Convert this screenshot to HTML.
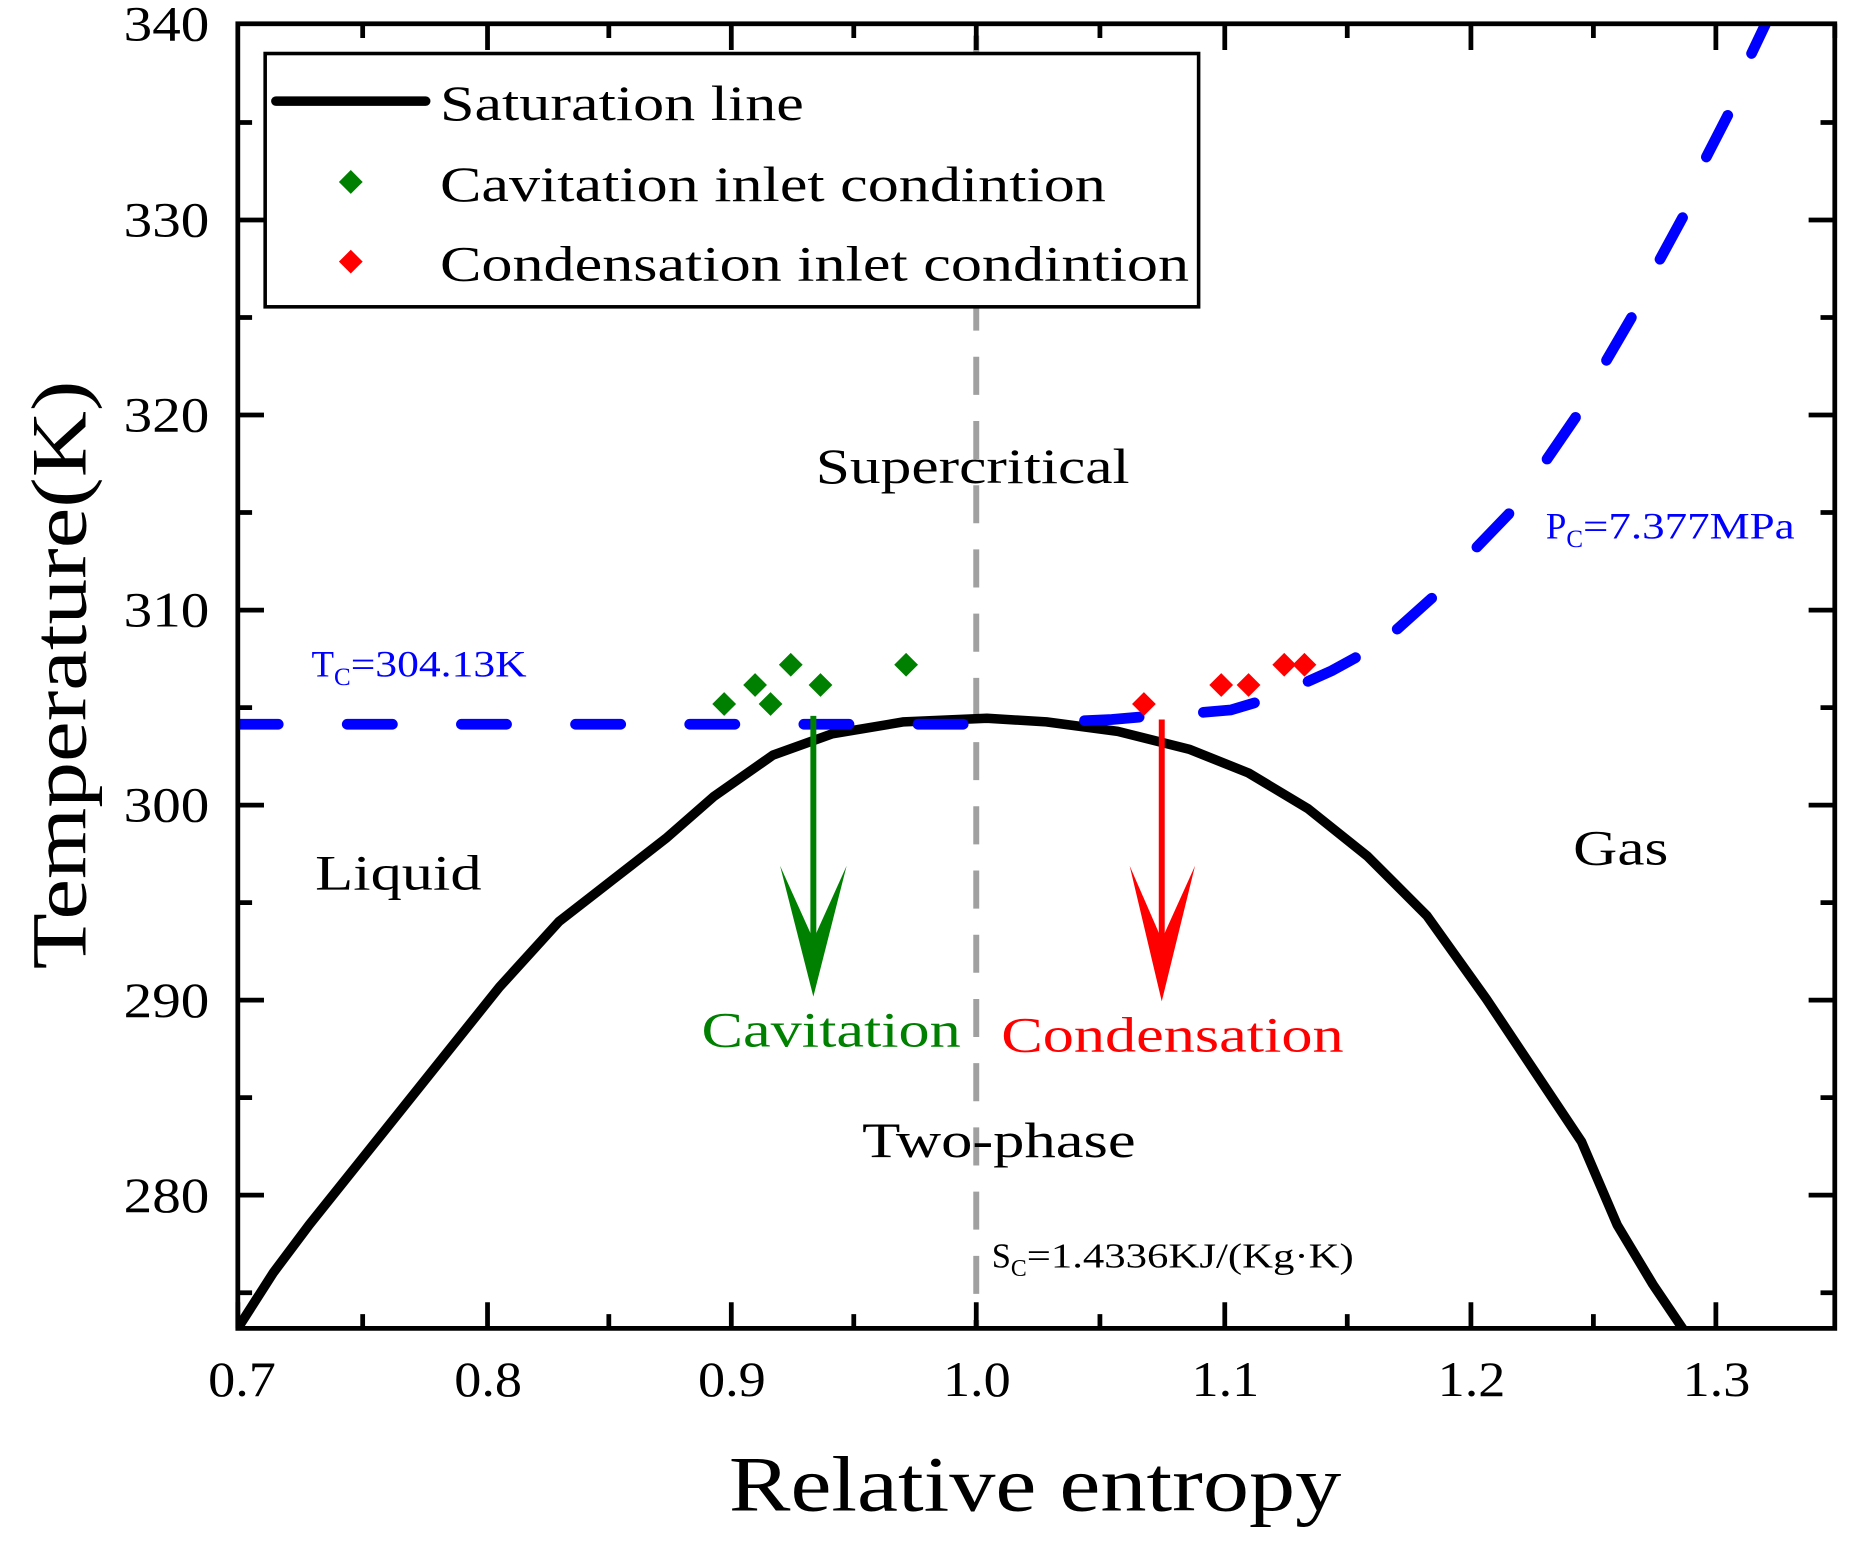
<!DOCTYPE html>
<html><head><meta charset="utf-8"><style>
html,body{margin:0;padding:0;background:#fff;}
svg{display:block;}
text{font-family:"Liberation Serif",serif;}
</style></head><body>
<svg width="1855" height="1546" viewBox="0 0 1560 1300" preserveAspectRatio="none" xmlns="http://www.w3.org/2000/svg">
<rect x="0" y="0" width="1560" height="1300" fill="#fff"/>
<defs><clipPath id="c"><rect x="200" y="20" width="1343" height="1097"/></clipPath></defs>
<g clip-path="url(#c)">
<line x1="821" y1="30" x2="821" y2="1117" stroke="#a0a0a0" stroke-width="5" stroke-dasharray="32,22"/>
<polyline fill="none" stroke="#000" stroke-width="8" stroke-linejoin="round" points="198,1120 230,1070 260,1030 300,980 340,930 380,880 420,830 470,775 515,740 560,705 600,670 650,635 700,617 760,607 830,604 880,607 940,615 1000,630 1050,650 1100,680 1150,720 1200,770 1250,840 1290,900 1330,960 1360,1030 1390,1080 1417,1120"/>
<g stroke="#0000ff" stroke-width="9" stroke-linecap="round" fill="none">
<line x1="196" y1="609" x2="866" y2="609" stroke-dasharray="38,58" stroke-dashoffset="0"/>
<polyline points="912,606 935,605 958,603"/>
<polyline points="1012,599 1035,597 1055,591"/>
<polyline points="1100,573 1120,564 1140,553"/>
<line x1="1175" y1="529" x2="1204" y2="503"/>
<line x1="1242" y1="460" x2="1269" y2="432"/>
<line x1="1301" y1="386" x2="1325" y2="351"/>
<line x1="1351" y1="303" x2="1372" y2="267"/>
<line x1="1396" y1="218" x2="1415" y2="183"/>
<line x1="1435" y1="132" x2="1453" y2="97"/>
<line x1="1473" y1="45" x2="1492" y2="5"/>
</g>
</g>
<g fill="#008000">
<polygon points="609,582 619,592 609,602 599,592"/>
<polygon points="635,566 645,576 635,586 625,576"/>
<polygon points="648,582 658,592 648,602 638,592"/>
<polygon points="665,549 675,559 665,569 655,559"/>
<polygon points="690,566 700,576 690,586 680,576"/>
<polygon points="762,549 772,559 762,569 752,559"/>
</g>
<g fill="#ff0000">
<polygon points="962,582 972,592 962,602 952,592"/>
<polygon points="1027,566 1037,576 1027,586 1017,576"/>
<polygon points="1050,566 1060,576 1050,586 1040,576"/>
<polygon points="1080,549 1090,559 1080,569 1070,559"/>
<polygon points="1097,549 1107,559 1097,569 1087,559"/>
</g>
<line x1="684" y1="602" x2="684" y2="790" stroke="#008000" stroke-width="5"/>
<polygon points="656,728 684,790 712,728 684,838" fill="#008000"/>
<line x1="977" y1="605" x2="977" y2="790" stroke="#ff0000" stroke-width="5"/>
<polygon points="950,728 977,790 1005,728 977,842" fill="#ff0000"/>
<rect x="200" y="20" width="1343" height="1097" fill="none" stroke="#000" stroke-width="4"/>
<g stroke="#000" stroke-width="4">
<path d="M200,1117v-22M410,1117v-22M615,1117v-22M821,1117v-22M1030,1117v-22M1237,1117v-22M1443,1117v-22
M305,1117v-12M512,1117v-12M718,1117v-12M925,1117v-12M1133,1117v-12M1340,1117v-12
M410,20v22M615,20v22M821,20v22M1030,20v22M1237,20v22M1443,20v22
M305,20v12M512,20v12M718,20v12M925,20v12M1133,20v12M1340,20v12M1543,20v12"/>
<path d="M200,185h22M200,349h22M200,513h22M200,677h22M200,841h22M200,1005h22
M200,103h12M200,267h12M200,431h12M200,595h12M200,759h12M200,923h12M200,1087h12
M1543,185h-22M1543,349h-22M1543,513h-22M1543,677h-22M1543,841h-22M1543,1005h-22
M1543,103h-12M1543,267h-12M1543,431h-12M1543,595h-12M1543,759h-12M1543,923h-12M1543,1087h-12"/>
</g>
<g font-size="42" text-anchor="end">
<text x="176" y="34" textLength="72" lengthAdjust="spacingAndGlyphs">340</text>
<text x="176" y="199" textLength="72" lengthAdjust="spacingAndGlyphs">330</text>
<text x="176" y="363" textLength="72" lengthAdjust="spacingAndGlyphs">320</text>
<text x="176" y="527" textLength="72" lengthAdjust="spacingAndGlyphs">310</text>
<text x="176" y="691" textLength="72" lengthAdjust="spacingAndGlyphs">300</text>
<text x="176" y="855" textLength="72" lengthAdjust="spacingAndGlyphs">290</text>
<text x="176" y="1019" textLength="72" lengthAdjust="spacingAndGlyphs">280</text>
</g>
<g font-size="42">
<text x="175" y="1174" textLength="57" lengthAdjust="spacingAndGlyphs">0.7</text>
<text x="382" y="1174" textLength="57" lengthAdjust="spacingAndGlyphs">0.8</text>
<text x="587" y="1174" textLength="57" lengthAdjust="spacingAndGlyphs">0.9</text>
<text x="793" y="1174" textLength="57" lengthAdjust="spacingAndGlyphs">1.0</text>
<text x="1002" y="1174" textLength="57" lengthAdjust="spacingAndGlyphs">1.1</text>
<text x="1209" y="1174" textLength="57" lengthAdjust="spacingAndGlyphs">1.2</text>
<text x="1415" y="1174" textLength="57" lengthAdjust="spacingAndGlyphs">1.3</text>
</g>
<text x="613" y="1270" font-size="66" textLength="515" lengthAdjust="spacingAndGlyphs">Relative entropy</text>
<text transform="translate(72,815) rotate(-90)" font-size="66" textLength="495" lengthAdjust="spacingAndGlyphs">Temperature(K)</text>
<rect x="223" y="45" width="785" height="213" fill="#fff" stroke="#000" stroke-width="3"/>
<line x1="232" y1="85" x2="358" y2="85" stroke="#000" stroke-width="8" stroke-linecap="round"/>
<polygon points="295,143 305,153 295,163 285,153" fill="#008000"/>
<polygon points="295,210 305,220 295,230 285,220" fill="#ff0000"/>
<g font-size="42" lengthAdjust="spacingAndGlyphs">
<text x="370" y="101" textLength="306" lengthAdjust="spacingAndGlyphs">Saturation line</text>
<text x="370" y="169" textLength="560" lengthAdjust="spacingAndGlyphs">Cavitation inlet condintion</text>
<text x="370" y="236" textLength="630" lengthAdjust="spacingAndGlyphs">Condensation inlet condintion</text>
<text x="686" y="406" textLength="264" lengthAdjust="spacingAndGlyphs">Supercritical</text>
<text x="265" y="748" textLength="140" lengthAdjust="spacingAndGlyphs">Liquid</text>
<text x="1323" y="727" textLength="80" lengthAdjust="spacingAndGlyphs">Gas</text>
<text x="725" y="973" textLength="230" lengthAdjust="spacingAndGlyphs">Two-phase</text>
<text x="590" y="880" fill="#008000" textLength="218" lengthAdjust="spacingAndGlyphs">Cavitation</text>
<text x="842" y="884" fill="#ff0000" textLength="288" lengthAdjust="spacingAndGlyphs">Condensation</text>
</g>
<text x="262" y="569" font-size="31" fill="#0000ff">T<tspan font-size="21" dy="7">C</tspan><tspan dy="-7" textLength="148" lengthAdjust="spacingAndGlyphs">=304.13K</tspan></text>
<text x="1300" y="453" font-size="31" fill="#0000ff">P<tspan font-size="21" dy="7">C</tspan><tspan dy="-7" textLength="178" lengthAdjust="spacingAndGlyphs">=7.377MPa</tspan></text>
<text x="834" y="1066" font-size="29" fill="#000">S<tspan font-size="20" dy="7">C</tspan><tspan dy="-7" textLength="275" lengthAdjust="spacingAndGlyphs">=1.4336KJ/(Kg·K)</tspan></text>
</svg>
</body></html>
